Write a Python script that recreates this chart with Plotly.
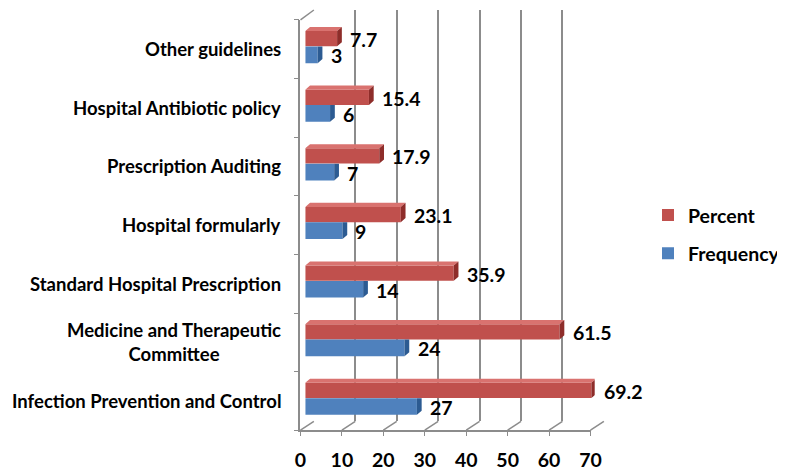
import plotly.graph_objects as go

# categories bottom -> top
categories = [
    "Infection Prevention and Control",
    "Medicine and Therapeutic<br>Committee",
    "Standard Hospital Prescription",
    "Hospital formularly",
    "Prescription Auditing",
    "Hospital Antibiotic policy",
    "Other guidelines",
]
percent = [69.2, 61.5, 35.9, 23.1, 17.9, 15.4, 7.7]
frequency = [27, 24, 14, 9, 7, 6, 3]
x_ticks = [0, 10, 20, 30, 40, 50, 60, 70]

# the page body has an 8px margin, so the figure is drawn 8px in from the corner;
# positions below are pixels of the 785x471 window
OFF = 8
W, H = 785 - OFF, 471 - OFF
RED, RED_TOP, RED_SIDE = "#C0504D", "#D9726F", "#8E2D2A"
BLUE, BLUE_SIDE = "#4F81BD", "#2C5B92"
GRID = "#8C8C8C"
FONT = dict(family="Lato", size=19.5, color="black", weight="bold")
CAT_FONT = dict(family="Lato", size=18.5, color="black", weight="bold")


def px(x):
    return (x - OFF) / W


def py(y):
    return 1 - (y - OFF) / H


pos = list(range(len(categories)))
red_y = [i + 0.18 for i in pos]
blue_y = [i - 0.095 for i in pos]
red_w, blue_w = 0.26, 0.285
dx, dy = 1.15, 0.07  # fake depth of the 3d bars, in data units

fig = go.Figure()

# back wall gridlines (subplot xy)
fig.add_trace(go.Scatter(x=[None], y=[None], xaxis="x", yaxis="y",
                         showlegend=False, hoverinfo="skip"))
# front floor / left wall (subplot x2y2)
fig.add_trace(go.Scatter(x=[None], y=[None], xaxis="x2", yaxis="y2",
                         showlegend=False, hoverinfo="skip"))

# bars (subplot x3y3)
fig.add_trace(go.Bar(name="Percent", x=percent, y=red_y, width=red_w,
                     orientation="h", marker=dict(color=RED, line=dict(width=0)),
                     xaxis="x3", yaxis="y3", legendgroup="p", hoverinfo="x"))
fig.add_trace(go.Bar(name="Frequency", x=frequency, y=blue_y, width=blue_w,
                     orientation="h", marker=dict(color=BLUE, line=dict(width=0)),
                     xaxis="x3", yaxis="y3", legendgroup="f", hoverinfo="x"))

# side / top faces
bx, by = [], []
for v, c in zip(frequency, blue_y):
    lo, hi = c - blue_w / 2, c + blue_w / 2
    bx += [v, v, v + dx, v + dx, None]
    by += [lo, hi, hi, lo + dy, None]
rtx, rty, rsx, rsy = [], [], [], []
for v, c in zip(percent, red_y):
    lo, hi = c - red_w / 2, c + red_w / 2
    rtx += [0, v, v + dx, dx, None]
    rty += [hi, hi, hi + dy, hi + dy, None]
    rsx += [v, v, v + dx, v + dx, None]
    rsy += [lo, hi, hi + dy, lo + dy, None]

for fx, fy, col in [(bx, by, BLUE_SIDE), (rtx, rty, RED_TOP), (rsx, rsy, RED_SIDE)]:
    fig.add_trace(go.Scatter(x=fx, y=fy, fill="toself", fillcolor=col, mode="lines",
                             line=dict(width=0, color=col), xaxis="x3", yaxis="y3",
                             showlegend=False, hoverinfo="skip"))

# value labels
ann = []
for v, c in zip(percent, red_y):
    ann.append(dict(x=v, y=c, xref="x3", yref="y3", text=f"{v}", showarrow=False,
                    xanchor="left", xshift=11, yshift=-1, font=FONT))
for v, c in zip(frequency, blue_y):
    ann.append(dict(x=v, y=c, xref="x3", yref="y3", text=f"{v}", showarrow=False,
                    xanchor="left", xshift=11, yshift=-1, font=FONT))
# category labels (centred multi-line text)
for i, name in zip(pos, categories):
    ann.append(dict(x=px(290), y=i, xref="paper", yref="y2", text=name, showarrow=False,
                    xanchor="right", align="center", font=CAT_FONT))

# 3d frame: floor slants and left wall top edge
shapes = []
scale = (611.7 - 308) / 70
for t in x_ticks:
    shapes.append(dict(type="line", xref="paper", yref="paper",
                       x0=px(308 + t * scale), y0=py(433), x1=px(322 + t * scale), y1=py(424),
                       line=dict(color=GRID, width=1.5)))
shapes.append(dict(type="line", xref="paper", yref="paper",
                   x0=px(308), y0=py(20), x1=px(322), y1=py(10),
                   line=dict(color=GRID, width=1.5)))

fig.update_layout(
    width=W, height=H,
    margin=dict(l=0, r=0, t=0, b=0),
    paper_bgcolor="white", plot_bgcolor="rgba(0,0,0,0)",
    barmode="overlay",
    showlegend=True,
    legend=dict(x=px(672), y=py(197), xanchor="left", yanchor="top",
                font=FONT, tracegroupgap=10, traceorder="grouped",
                bgcolor="rgba(0,0,0,0)"),
    annotations=ann,
    shapes=shapes,
    xaxis=dict(domain=[px(322), px(625.7)], range=[-0.01, 70.01], tickvals=x_ticks,
               showgrid=True, gridcolor=GRID, gridwidth=1.5, showticklabels=False,
               zeroline=False, showline=False, ticks="", anchor="y", fixedrange=True),
    yaxis=dict(domain=[py(424), py(10)], range=[0, 1], visible=False, anchor="x",
               fixedrange=True),
    xaxis2=dict(domain=[px(308), px(611.7)], range=[0, 70], tickvals=x_ticks,
                showgrid=False, zeroline=False, showline=True, linecolor=GRID,
                linewidth=1.5, ticks="outside", ticklen=4, tickcolor=GRID,
                tickfont=FONT, ticklabelstandoff=8, anchor="y2", fixedrange=True),
    yaxis2=dict(domain=[py(433), py(20)], range=[-0.5, 6.5],
                tickvals=[i - 0.5 for i in range(len(categories) + 1)],
                showticklabels=False, showgrid=False, zeroline=False, showline=True,
                linecolor=GRID, linewidth=1.5, ticks="outside", ticklen=5,
                tickcolor=GRID, anchor="x2", fixedrange=True),
    xaxis3=dict(domain=[px(313), px(313 + 70 * 4.33)], range=[0, 70], visible=False,
                anchor="y3", fixedrange=True),
    yaxis3=dict(domain=[py(433), py(20)], range=[-0.5, 6.5], visible=False,
                anchor="x3", fixedrange=True),
)

fig.write_html("out.html")
